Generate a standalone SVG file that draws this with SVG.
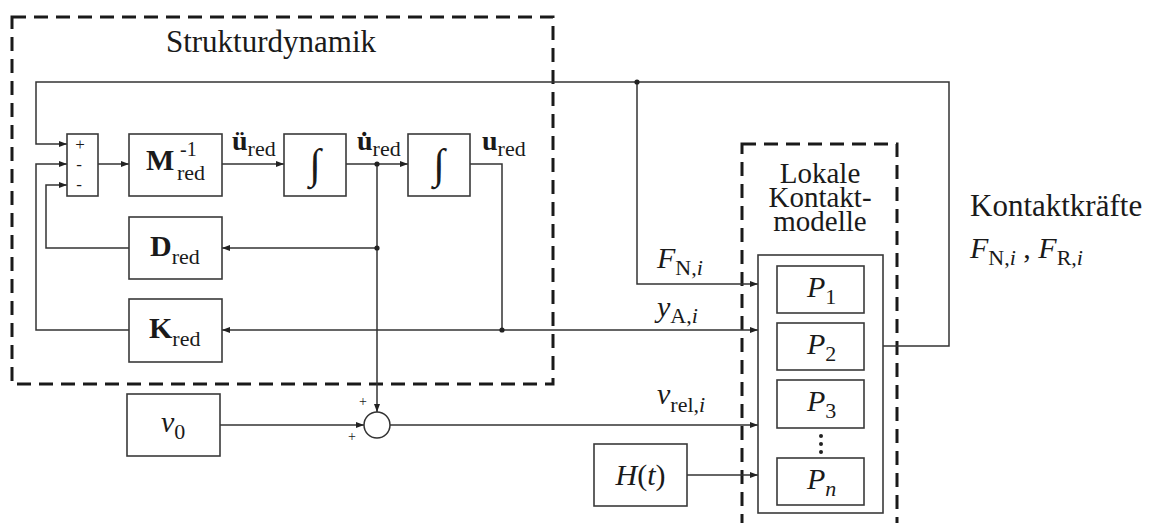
<svg xmlns="http://www.w3.org/2000/svg" width="1152" height="523" viewBox="0 0 1152 523" font-family="'Liberation Serif', 'Times New Roman', serif">
<style>
text{font-family:"Liberation Serif","Times New Roman",serif;fill:#1a1a1a}
.t{font-size:31px}
.k{font-size:29px}
.m{font-size:30px}
.b{font-weight:bold}
.i{font-style:italic}
.s{font-size:22px}
.box{fill:#fff;stroke:#3a3a3a;stroke-width:1.6}
.dash{fill:none;stroke:#1a1a1a;stroke-width:3;stroke-dasharray:14 8}
.ln{fill:none;stroke:#333;stroke-width:1.5}
.dot{fill:#222}
</style>
<defs>
<marker id="ah" viewBox="0 0 8 6" refX="8" refY="3" markerWidth="8" markerHeight="6" markerUnits="userSpaceOnUse" orient="auto">
<path d="M0,0 L8,3 L0,6 z" fill="#222"/>
</marker>
</defs>
<rect width="1152" height="523" fill="#fff"/>

<g id="strukturdynamik">
<rect class="dash" x="12" y="17" width="541" height="367"/>
<text class="t" x="271" y="52" text-anchor="middle">Strukturdynamik</text>
</g>

<g id="kontaktmodelle">
<rect class="dash" x="742" y="144" width="155" height="400"/>
<text class="k" text-anchor="middle"><tspan x="820" y="183">Lokale</tspan><tspan x="820" y="207">Kontakt-</tspan><tspan x="820" y="231">modelle</tspan></text>
</g>

<g id="connectors">
<path class="ln" d="M883,346 H949 V82 H36 V144 H67" marker-end="url(#ah)"/>
<path class="ln" d="M637,82 V284 H758" marker-end="url(#ah)"/>
<path class="ln" d="M98,164 H129" marker-end="url(#ah)"/>
<path class="ln" d="M222,164 H284" marker-end="url(#ah)"/>
<path class="ln" d="M346,164 H408" marker-end="url(#ah)"/>
<path class="ln" d="M470,164 H502 V330 H758" marker-end="url(#ah)"/>
<path class="ln" d="M502,330 H222" marker-end="url(#ah)"/>
<path class="ln" d="M129,330 H36 V164 H67" marker-end="url(#ah)"/>
<path class="ln" d="M377,164 V412" marker-end="url(#ah)"/>
<path class="ln" d="M377,248 H222" marker-end="url(#ah)"/>
<path class="ln" d="M129,248 H46 V185 H67" marker-end="url(#ah)"/>
<path class="ln" d="M220,425 H364" marker-end="url(#ah)"/>
<path class="ln" d="M390,425 H758" marker-end="url(#ah)"/>
<path class="ln" d="M687,475 H758" marker-end="url(#ah)"/>
<circle class="dot" cx="637" cy="82" r="2.6"/>
<circle class="dot" cx="377" cy="164" r="2.6"/>
<circle class="dot" cx="377" cy="248" r="2.6"/>
<circle class="dot" cx="502" cy="330" r="2.6"/>
<text class="m i" x="657" y="268">F<tspan class="s" font-style="normal" dy="7">N,</tspan><tspan class="s">i</tspan></text>
<text class="m i" x="657" y="317">y<tspan class="s" font-style="normal" dy="6">A,</tspan><tspan class="s">i</tspan></text>
<text class="m i" x="657" y="404">v<tspan class="s" font-style="normal" dy="8">rel,</tspan><tspan class="s">i</tspan></text>
<text class="b" font-size="28" x="232" y="150">ü<tspan class="s" font-weight="normal" font-size="24" dy="6">red</tspan></text>
<text class="b" font-size="28" x="357" y="150">u̇<tspan class="s" font-weight="normal" font-size="24" dy="6">red</tspan></text>
<text class="b" font-size="28" x="482" y="150">u<tspan class="s" font-weight="normal" font-size="24" dy="6">red</tspan></text>
</g>

<g id="sum">
<rect class="box" x="67" y="134" width="31" height="62"/>
<text font-size="17" text-anchor="middle"><tspan x="80" y="150">+</tspan><tspan x="79" y="170">-</tspan><tspan x="79" y="190">-</tspan></text>
</g>

<g id="minv">
<rect class="box" x="129" y="134" width="93" height="62"/>
<text class="m b" x="146" y="170">M</text>
<text x="180" y="156" font-size="20">-1</text>
<text class="s" x="177" y="180">red</text>
</g>

<g id="int1">
<rect class="box" x="284" y="134" width="62" height="62"/>
<text x="315" y="178" font-size="42" text-anchor="middle">∫</text>
</g>

<g id="int2">
<rect class="box" x="408" y="134" width="62" height="62"/>
<text x="439" y="178" font-size="42" text-anchor="middle">∫</text>
</g>

<g id="dred">
<rect class="box" x="129" y="217" width="93" height="62"/>
<text class="m b" x="150" y="256">D<tspan class="s" font-weight="normal" dy="8">red</tspan></text>
</g>

<g id="kred">
<rect class="box" x="129" y="299" width="93" height="63"/>
<text class="m b" x="149" y="338">K<tspan class="s" font-weight="normal" dy="8">red</tspan></text>
</g>

<g id="v0">
<rect class="box" x="127" y="394" width="93" height="62"/>
<text class="m i" x="161" y="432">v<tspan class="s" font-style="normal" dy="7">0</tspan></text>
</g>

<g id="summer">
<circle cx="377" cy="425" r="13" fill="#fff" stroke="#333" stroke-width="1.5"/>
<text x="363" y="406" font-size="14" text-anchor="middle">+</text>
<text x="352" y="441" font-size="14" text-anchor="middle">+</text>
</g>

<g id="ht">
<rect class="box" x="594" y="444" width="93" height="62"/>
<text class="m" x="640.5" y="485" text-anchor="middle"><tspan font-style="italic">H</tspan>(<tspan font-style="italic">t</tspan>)</text>
</g>

<g id="contactblock">
<rect class="box" x="758" y="255" width="125" height="258"/>
</g>

<g id="p1">
<rect class="box" x="777" y="266" width="87" height="47"/>
<text class="m i" x="807" y="297">P<tspan class="s" font-style="normal" dy="7">1</tspan></text>
</g>
<g id="p2">
<rect class="box" x="777" y="323" width="87" height="47"/>
<text class="m i" x="807" y="354">P<tspan class="s" font-style="normal" dy="7">2</tspan></text>
</g>
<g id="p3">
<rect class="box" x="777" y="380" width="87" height="48"/>
<text class="m i" x="807" y="411">P<tspan class="s" font-style="normal" dy="7">3</tspan></text>
</g>
<g id="dots">
<circle class="dot" cx="821" cy="436" r="2"/>
<circle class="dot" cx="821" cy="444" r="2"/>
<circle class="dot" cx="821" cy="452" r="2"/>
</g>
<g id="pn">
<rect class="box" x="777" y="458" width="87" height="47"/>
<text class="m i" x="807" y="489">P<tspan class="s" dy="7">n</tspan></text>
</g>

<g id="kontaktkraefte">
<text class="t" x="970" y="216">Kontaktkräfte</text>
<text class="m i" x="970" y="258">F<tspan class="s" font-style="normal" dy="7">N,</tspan><tspan class="s">i</tspan><tspan dy="-7" font-style="normal"> , </tspan>F<tspan class="s" font-style="normal" dy="7">R,</tspan><tspan class="s">i</tspan></text>
</g>
</svg>
